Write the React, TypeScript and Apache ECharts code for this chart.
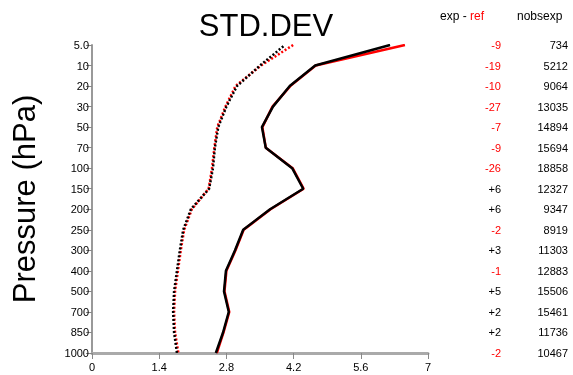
import React, { useEffect, useRef } from "react";
import * as echarts from "echarts";

const levels = ["5.0", "10", "20", "30", "50", "70", "100", "150", "200", "250", "300", "400", "500", "700", "850", "1000"];
const expSolid = [6.21, 4.65, 4.12, 3.77, 3.54, 3.62, 4.17, 4.4, 3.71, 3.15, 2.98, 2.79, 2.75, 2.85, 2.73, 2.58];
const refSolid = [6.52, 4.66, 4.13, 3.76, 3.55, 3.62, 4.18, 4.41, 3.72, 3.16, 2.99, 2.8, 2.76, 2.86, 2.74, 2.6];
const expDot = [4.02, 3.5, 3.02, 2.8, 2.63, 2.56, 2.52, 2.44, 2.06, 1.9, 1.83, 1.77, 1.71, 1.69, 1.71, 1.77];
const refDot = [4.19, 3.52, 2.99, 2.78, 2.61, 2.55, 2.5, 2.43, 2.08, 1.92, 1.85, 1.79, 1.73, 1.71, 1.73, 1.8];
const diffs = ["-9", "-19", "-10", "-27", "-7", "-9", "-26", "+6", "+6", "-2", "+3", "-1", "+5", "+2", "+2", "-2"];
const nobs = ["734", "5212", "9064", "13035", "14894", "15694", "18858", "12327", "9347", "8919", "11303", "12883", "15506", "15461", "11736", "10467"];

const FONT = "Liberation Sans, Arial, sans-serif";

export default function App() {
  const ref = useRef<HTMLDivElement>(null);
  useEffect(() => {
    const chart = echarts.init(ref.current!, null, { renderer: "svg" });
    const catAxisBase = {
      type: "category",
      data: levels,
      inverse: true,
      boundaryGap: false,
    };
    chart.setOption({
      animation: false,
      title: {
        text: "STD.DEV",
        left: 261,
        textAlign: "center",
        top: 5,
        textStyle: { fontFamily: FONT, fontSize: 31, fontWeight: "normal", color: "#000" },
      },
      grid: { left: 92, right: 145, top: 45, bottom: 22 },
      xAxis: {
        type: "value",
        min: 0,
        max: 7,
        interval: 1.4,
        splitLine: { show: false },
        axisLine: { show: true, lineStyle: { color: "#aaa", width: 3 } },
        axisTick: { show: true, length: 6, lineStyle: { color: "#888", width: 1 } },
        axisLabel: {
          color: "#000",
          fontFamily: FONT,
          fontSize: 11,
          margin: 8,
          formatter: (v: number) => String(parseFloat(v.toFixed(1))),
        },
      },
      yAxis: [
        {
          ...catAxisBase,
          position: "left",
          name: "Pressure (hPa)",
          nameLocation: "middle",
          nameGap: 52,
          nameTextStyle: { fontFamily: FONT, fontSize: 31, color: "#000" },
          axisLine: { show: true, lineStyle: { color: "#999", width: 2 } },
          axisTick: { show: true, length: 6, alignWithLabel: true, lineStyle: { color: "#888", width: 1 } },
          axisLabel: { color: "#000", fontFamily: FONT, fontSize: 11, margin: 3 },
          splitLine: { show: false },
        },
        {
          ...catAxisBase,
          position: "right",
          offset: 73,
          axisLine: { show: false },
          axisTick: { show: false },
          splitLine: { show: false },
          axisLabel: {
            align: "right",
            margin: 0,
            formatter: (v: string, i: number) => {
              const d = diffs[i];
              return d.startsWith("-") ? `{neg|${d}}` : `{pos|${d}}`;
            },
            rich: {
              neg: { color: "#ff0000", fontFamily: FONT, fontSize: 11 },
              pos: { color: "#000", fontFamily: FONT, fontSize: 11 },
            },
          },
        },
        {
          ...catAxisBase,
          position: "right",
          offset: 140,
          axisLine: { show: false },
          axisTick: { show: false },
          splitLine: { show: false },
          axisLabel: {
            align: "right",
            margin: 0,
            color: "#000",
            fontFamily: FONT,
            fontSize: 11,
            formatter: (v: string, i: number) => nobs[i],
          },
        },
      ],
      graphic: [
        {
          type: "text",
          left: 440,
          top: 10,
          style: {
            text: "{b|exp - }{r|ref}",
            rich: {
              b: { fill: "#000", fontFamily: FONT, fontSize: 12 },
              r: { fill: "#ff0000", fontFamily: FONT, fontSize: 12 },
            },
          },
        },
        {
          type: "text",
          left: 517,
          top: 10,
          style: { text: "nobsexp", fill: "#000", fontFamily: FONT, fontSize: 12 },
        },
      ],
      series: [
        { type: "line", data: refSolid, yAxisIndex: 0, symbol: "none", lineStyle: { color: "#ff0000", width: 2.5 } },
        { type: "line", data: expSolid, yAxisIndex: 0, symbol: "none", lineStyle: { color: "#000", width: 2.5 } },
        { type: "line", data: refDot, yAxisIndex: 0, symbol: "none", lineStyle: { color: "#ff0000", width: 2.5, type: [2, 2] } },
        { type: "line", data: expDot, yAxisIndex: 0, symbol: "none", lineStyle: { color: "#000", width: 2.5, type: [2, 2], dashOffset: 2 } },
      ].map((s) => ({
        ...s,
        data: (s.data as number[]).map((x, i) => [x, levels[i]]),
      })),
    });
    return () => chart.dispose();
  }, []);
  return <div ref={ref} style={{ position: "fixed", left: 0, top: 0, width: 573, height: 375 }} />;
}
